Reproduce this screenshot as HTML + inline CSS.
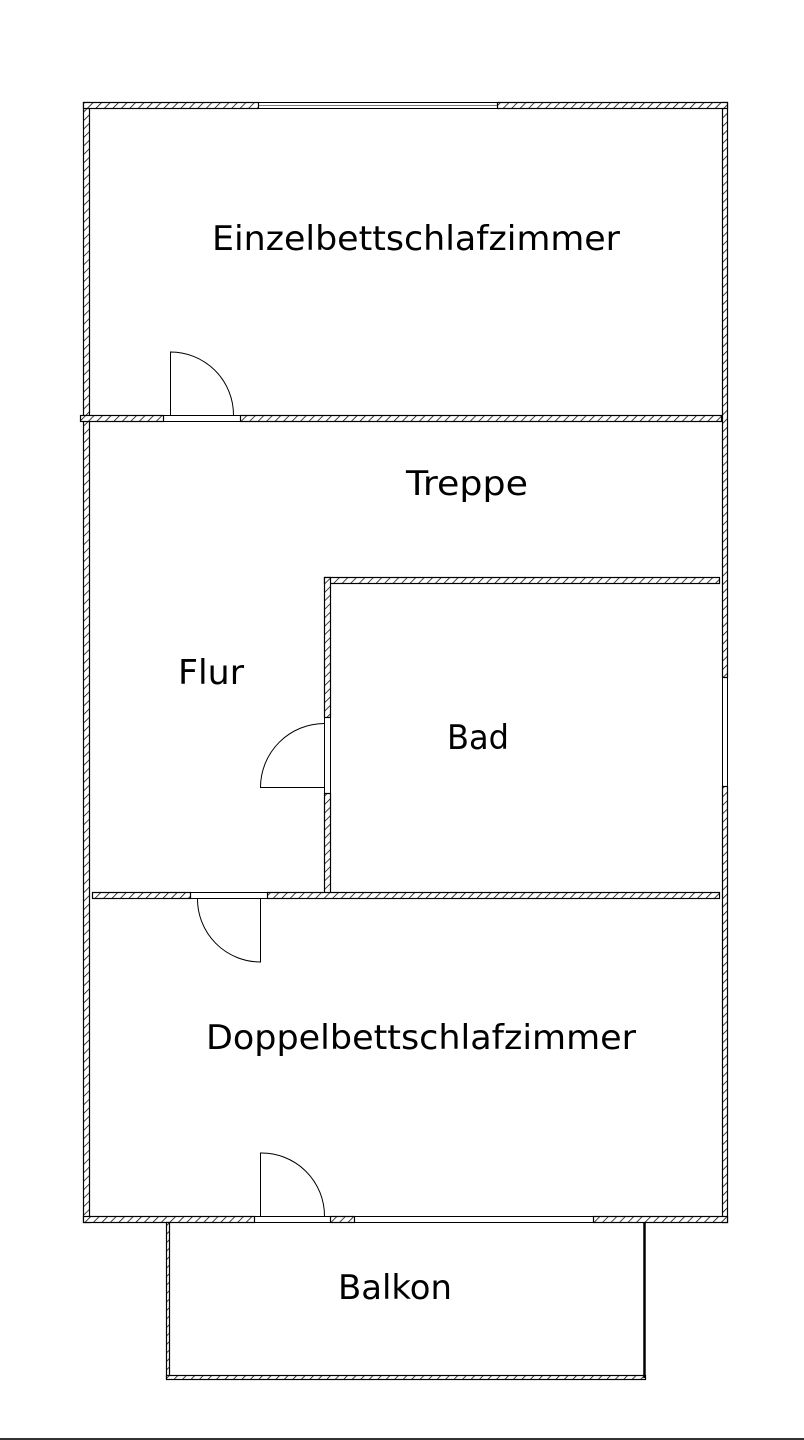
<!DOCTYPE html>
<html><head><meta charset="utf-8"><style>
html,body{margin:0;padding:0;background:#fff;}
svg{display:block;}
text{font-family:"DejaVu Sans","Liberation Sans",sans-serif;font-size:34px;fill:#000;text-anchor:middle;}
</style></head><body>
<svg width="804" height="1440" viewBox="0 0 804 1440" xmlns="http://www.w3.org/2000/svg">
<defs>
<pattern id="h" patternUnits="userSpaceOnUse" width="6" height="6" patternTransform="rotate(45)">
<rect width="6" height="6" fill="#fff"/><line x1="0" y1="0" x2="0" y2="6" stroke="#000" stroke-width="1.5"/>
</pattern>
</defs>
<g stroke="#000" stroke-width="1.2" fill="url(#h)">
<rect x="83.5" y="102.5" width="6" height="1120"/>
<rect x="722.5" y="102.5" width="5" height="575"/>
<rect x="722.5" y="786.5" width="5" height="436"/>
<rect x="83.5" y="102.5" width="175" height="6"/>
<rect x="497.5" y="102.5" width="230" height="6"/>
<rect x="80.5" y="415.5" width="83" height="6"/>
<rect x="240.5" y="415.5" width="481" height="6"/>
<rect x="324.5" y="577.5" width="395" height="6"/>
<rect x="324.5" y="577.5" width="6" height="140"/>
<rect x="324.5" y="793.5" width="6" height="104"/>
<rect x="92.5" y="892.5" width="98" height="6"/>
<rect x="267.5" y="892.5" width="452" height="6"/>
<rect x="83.5" y="1216.5" width="171" height="6"/>
<rect x="330.5" y="1216.5" width="24" height="6"/>
<rect x="593.5" y="1216.5" width="134" height="6"/>
<rect x="166.5" y="1222.5" width="3" height="156"/>
<rect x="166.5" y="1375.5" width="479" height="4"/>
</g>
<g stroke="#000" stroke-width="1" fill="none">
<rect x="258.5" y="102.5" width="239" height="6"/>
<line x1="258" y1="105.5" x2="497" y2="105.5" stroke-width="0.6"/>
<rect x="163.5" y="415.5" width="77" height="6"/>
<rect x="190.5" y="892.5" width="77" height="6"/>
<rect x="324.5" y="717.5" width="6" height="76"/>
<rect x="722.5" y="677.5" width="5" height="109"/>
<rect x="254.5" y="1216.5" width="76" height="6"/>
<rect x="354.5" y="1216.5" width="239" height="6"/>
<line x1="644.5" y1="1222" x2="644.5" y2="1378" stroke-width="2.5"/>
<path d="M170.5 415 V352 A63 63 0 0 1 233.5 415"/>
<path d="M324 787.5 H260.5 A64 64 0 0 1 324 723.5"/>
<path d="M260.5 898 V962 A63 63 0 0 1 197.5 898"/>
<path d="M260.5 1216 V1153 A63 63 0 0 1 324.5 1216"/>
</g>
<line x1="0" y1="1439" x2="804" y2="1439" stroke="#333" stroke-width="2"/>
<text x="416" y="250" textLength="408" lengthAdjust="spacingAndGlyphs">Einzelbettschlafzimmer</text>
<text x="467" y="495" textLength="122" lengthAdjust="spacingAndGlyphs">Treppe</text>
<text x="211" y="684" textLength="66" lengthAdjust="spacingAndGlyphs">Flur</text>
<text x="478" y="749" textLength="62" lengthAdjust="spacingAndGlyphs">Bad</text>
<text x="421" y="1049" textLength="430" lengthAdjust="spacingAndGlyphs">Doppelbettschlafzimmer</text>
<text x="395" y="1299" textLength="114" lengthAdjust="spacingAndGlyphs">Balkon</text>
</svg>
</body></html>
